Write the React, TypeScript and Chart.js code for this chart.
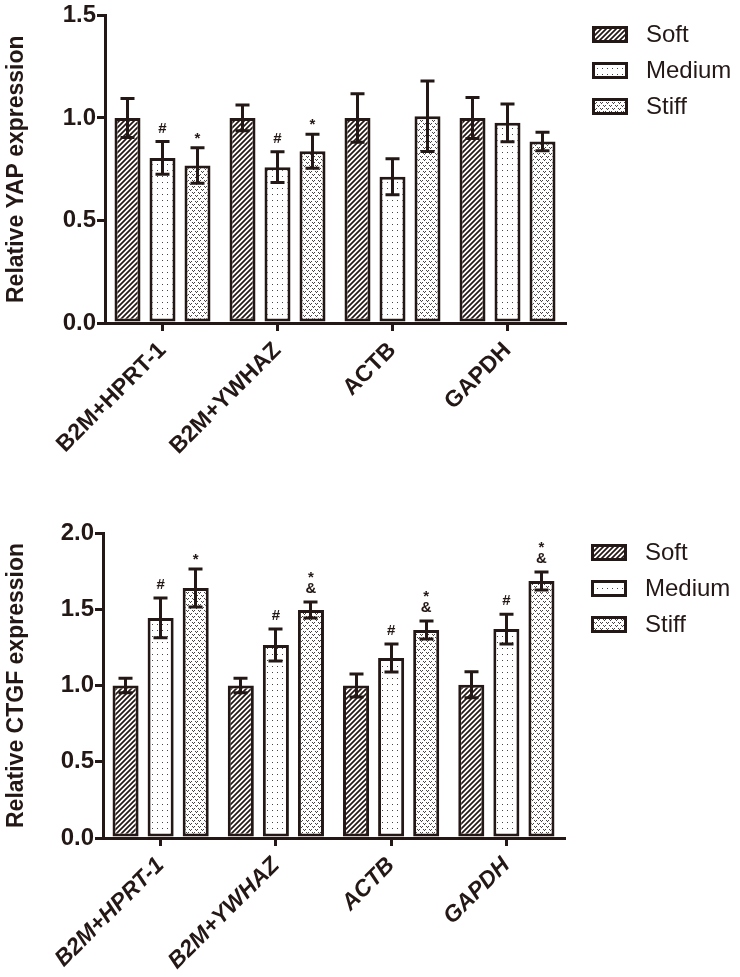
import React, { useEffect, useRef } from "react";
import { Chart, registerables } from "chart.js";

Chart.register(...registerables);

// ---------- data ----------
const categories = ["B2M+HPRT-1", "B2M+YWHAZ", "ACTB", "GAPDH"];
const seriesNames = ["Soft", "Medium", "Stiff"];

// Relative YAP expression
const yapSoft = [1.0, 1.0, 1.0, 1.0];
const yapSoftErr = [0.095, 0.063, 0.118, 0.1];
const yapMedium = [0.805, 0.76, 0.713, 0.976];
const yapMediumErr = [0.08, 0.075, 0.088, 0.092];
const yapStiff = [0.768, 0.838, 1.008, 0.885];
const yapStiffErr = [0.087, 0.083, 0.172, 0.045];
const yapMarksSoft = ["", "", "", ""];
const yapMarksMedium = ["#", "#", "", ""];
const yapMarksStiff = ["*", "*", "", ""];
const yapTicks = [0, 0.5, 1.0, 1.5];

// Relative CTGF expression
const ctgfSoft = [1.0, 1.0, 1.0, 1.005];
const ctgfSoftErr = [0.048, 0.048, 0.075, 0.085];
const ctgfMedium = [1.443, 1.266, 1.18, 1.37];
const ctgfMediumErr = [0.13, 0.105, 0.092, 0.098];
const ctgfStiff = [1.639, 1.495, 1.364, 1.685];
const ctgfStiffErr = [0.125, 0.053, 0.059, 0.059];
const ctgfMarksSoft = ["", "", "", ""];
const ctgfMarksMedium = ["#", "#", "#", "#"];
const ctgfMarksStiff = ["*", "*&", "*&", "*&"];
const ctgfTicks = [0, 0.5, 1.0, 1.5, 2.0];

// ---------- styling ----------
const INK = "#231815";
const FONT = "'Liberation Sans', Arial, Helvetica, sans-serif";

function makePattern(kind: string): CanvasPattern {
  const c = document.createElement("canvas");
  const w = kind === "dots" ? 5 : kind === "hatch" ? 5 : 6;
  const h = kind === "dots" ? 6 : kind === "hatch" ? 5 : 6;
  c.width = w;
  c.height = h;
  const g = c.getContext("2d")!;
  g.fillStyle = "#fff";
  g.fillRect(0, 0, w, h);
  if (kind === "hatch") {
    g.strokeStyle = INK;
    g.lineWidth = 1.7;
    g.beginPath();
    g.moveTo(-1, h + 1);
    g.lineTo(w + 1, -1);
    g.moveTo(-2, 2);
    g.lineTo(2, -2);
    g.moveTo(w - 2, h + 2);
    g.lineTo(w + 2, h - 2);
    g.stroke();
  } else if (kind === "dots") {
    g.fillStyle = "#4a4240";
    g.fillRect(2, 2, 1, 1);
  } else {
    g.fillStyle = "#4a4240";
    const px = [
      [0, 0], [2, 0], [1, 1],
      [3, 3], [5, 3], [4, 4],
    ];
    px.forEach(([x, y]) => g.fillRect(x, y, 1, 1));
  }
  return g.createPattern(c, "repeat")!;
}

interface Geom {
  width: number;
  height: number;
  top: number;
  right: number;
  yWidth: number;
  xHeight: number;
}

interface Spec {
  values: number[][];
  errs: number[][];
  marks: string[][];
  ticks: number[];
  yTitle: string;
  xItalic: boolean;
  geom: Geom;
}

function buildChart(canvas: HTMLCanvasElement, spec: Spec) {
  const patterns = [makePattern("hatch"), makePattern("dots"), makePattern("stiff")];
  const { geom } = spec;

  const errorBars = {
    id: "errorBars",
    afterDatasetsDraw(chart: any) {
      const ctx = chart.ctx;
      const ys = chart.scales.y;
      ctx.save();
      ctx.strokeStyle = INK;
      ctx.lineWidth = 3;
      spec.values.forEach((vals, i) => {
        const meta = chart.getDatasetMeta(i);
        meta.data.forEach((bar: any, j: number) => {
          const v = vals[j];
          const e = spec.errs[i][j];
          const x = Math.round(bar.x - 0.5) + 0.5;
          const yt = ys.getPixelForValue(v + e);
          const yb = ys.getPixelForValue(v - e);
          ctx.beginPath();
          ctx.moveTo(x, yt);
          ctx.lineTo(x, yb);
          ctx.moveTo(x - 7, yt);
          ctx.lineTo(x + 7, yt);
          ctx.moveTo(x - 7, yb);
          ctx.lineTo(x + 7, yb);
          ctx.stroke();
        });
      });
      ctx.restore();
    },
  };

  const markPlugin = {
    id: "marks",
    afterDatasetsDraw(chart: any) {
      const ctx = chart.ctx;
      const ys = chart.scales.y;
      ctx.save();
      ctx.fillStyle = INK;
      ctx.font = `bold 15px ${FONT}`;
      ctx.textAlign = "center";
      ctx.textBaseline = "alphabetic";
      spec.marks.forEach((row, i) => {
        const meta = chart.getDatasetMeta(i);
        row.forEach((m, j) => {
          if (!m) return;
          const bar: any = meta.data[j];
          const top = ys.getPixelForValue(spec.values[i][j] + spec.errs[i][j]);
          const chars = m.split("");
          let base = top - 9;
          for (let k = chars.length - 1; k >= 0; k--) {
            const ch = chars[k];
            if (ch === "*" && k === chars.length - 1) base = top - 5;
            ctx.fillText(ch, bar.x, base);
            base -= 11;
          }
        });
      });
      ctx.restore();
    },
  };

  const legendPlugin = {
    id: "customLegend",
    afterDraw(chart: any) {
      const ctx = chart.ctx;
      const a = chart.chartArea;
      ctx.save();
      seriesNames.forEach((name, i) => {
        const bx = a.right + 27;
        const cy = a.top + 19 + i * 36;
        const bw = 36;
        const bh = 17;
        const by = Math.round(cy - bh / 2);
        ctx.fillStyle = INK;
        ctx.fillRect(bx, by, bw, bh);
        ctx.fillStyle = patterns[i];
        ctx.fillRect(bx + 3, by + 3, bw - 6, bh - 6);
        ctx.fillStyle = INK;
        ctx.font = `24px ${FONT}`;
        ctx.textAlign = "left";
        ctx.textBaseline = "middle";
        ctx.fillText(name, bx + bw + 18, cy + 1);
      });
      ctx.restore();
    },
  };

  const yTitlePlugin = {
    id: "yTitle",
    afterDraw(chart: any) {
      const ctx = chart.ctx;
      const a = chart.chartArea;
      ctx.save();
      ctx.translate(17, (a.top + a.bottom) / 2);
      ctx.rotate(-Math.PI / 2);
      ctx.fillStyle = INK;
      ctx.font = `bold 23px ${FONT}`;
      ctx.textAlign = "center";
      ctx.textBaseline = "middle";
      ctx.fillText(spec.yTitle, 0, 0);
      ctx.restore();
    },
  };

  const gridOpts = {
    display: true,
    drawOnChartArea: false,
    drawTicks: true,
    tickLength: 8,
    tickWidth: 3,
    tickColor: INK,
    color: INK,
    lineWidth: 3,
  };

  return new Chart(canvas, {
    type: "bar",
    data: {
      labels: categories,
      datasets: seriesNames.map((name, i) => ({
        label: name,
        data: spec.values[i],
        backgroundColor: patterns[i],
        borderColor: INK,
        borderWidth: 3,
        borderSkipped: false,
        categoryPercentage: 0.913,
        barPercentage: 0.743,
      })),
    },
    options: {
      responsive: false,
      maintainAspectRatio: false,
      animation: false,
      devicePixelRatio: 1,
      layout: { padding: { left: 0, top: geom.top, right: geom.right, bottom: 0 } },
      plugins: {
        legend: { display: false },
        tooltip: { enabled: false },
        title: { display: false },
      },
      scales: {
        x: {
          offset: true,
          grid: { ...gridOpts, offset: false },
          border: { display: true, color: INK, width: 3 },
          ticks: {
            autoSkip: false,
            minRotation: 45,
            maxRotation: 45,
            padding: 6,
            color: INK,
            font: { family: FONT, size: 23, weight: "bold", style: spec.xItalic ? "italic" : "normal" },
          },
          afterFit: (s: any) => {
            s.height = geom.xHeight;
          },
        },
        y: {
          min: spec.ticks[0],
          max: spec.ticks[spec.ticks.length - 1],
          grid: gridOpts,
          border: { display: true, color: INK, width: 3 },
          afterBuildTicks: (s: any) => {
            s.ticks = spec.ticks.map((v) => ({ value: v }));
          },
          ticks: {
            padding: 1,
            color: INK,
            font: { family: FONT, size: 24, weight: "bold" },
            callback: (v: any) => Number(v).toFixed(1),
          },
          afterFit: (s: any) => {
            s.width = geom.yWidth;
          },
        },
      },
    },
    plugins: [errorBars, markPlugin, legendPlugin, yTitlePlugin],
  } as any);
}

const topSpec: Spec = {
  values: [yapSoft, yapMedium, yapStiff],
  errs: [yapSoftErr, yapMediumErr, yapStiffErr],
  marks: [yapMarksSoft, yapMarksMedium, yapMarksStiff],
  ticks: yapTicks,
  yTitle: "Relative YAP expression",
  xItalic: false,
  geom: { width: 740, height: 490, top: 15, right: 175, yWidth: 105, xHeight: 167 },
};

const bottomSpec: Spec = {
  values: [ctgfSoft, ctgfMedium, ctgfStiff],
  errs: [ctgfSoftErr, ctgfMediumErr, ctgfStiffErr],
  marks: [ctgfMarksSoft, ctgfMarksMedium, ctgfMarksStiff],
  ticks: ctgfTicks,
  yTitle: "Relative CTGF expression",
  xItalic: true,
  geom: { width: 740, height: 487, top: 43, right: 176, yWidth: 103, xHeight: 139 },
};

export default function App() {
  const topRef = useRef<HTMLCanvasElement>(null);
  const botRef = useRef<HTMLCanvasElement>(null);

  useEffect(() => {
    const c1 = buildChart(topRef.current!, topSpec);
    const c2 = buildChart(botRef.current!, bottomSpec);
    return () => {
      c1.destroy();
      c2.destroy();
    };
  }, []);

  return (
    <div style={{ position: "absolute", left: 0, top: 0, width: 740, height: 977, background: "#fff" }}>
      <canvas
        ref={topRef}
        width={topSpec.geom.width}
        height={topSpec.geom.height}
        style={{ position: "absolute", left: 0, top: 0, width: topSpec.geom.width, height: topSpec.geom.height }}
      />
      <canvas
        ref={botRef}
        width={bottomSpec.geom.width}
        height={bottomSpec.geom.height}
        style={{ position: "absolute", left: 0, top: 490, width: bottomSpec.geom.width, height: bottomSpec.geom.height }}
      />
    </div>
  );
}
